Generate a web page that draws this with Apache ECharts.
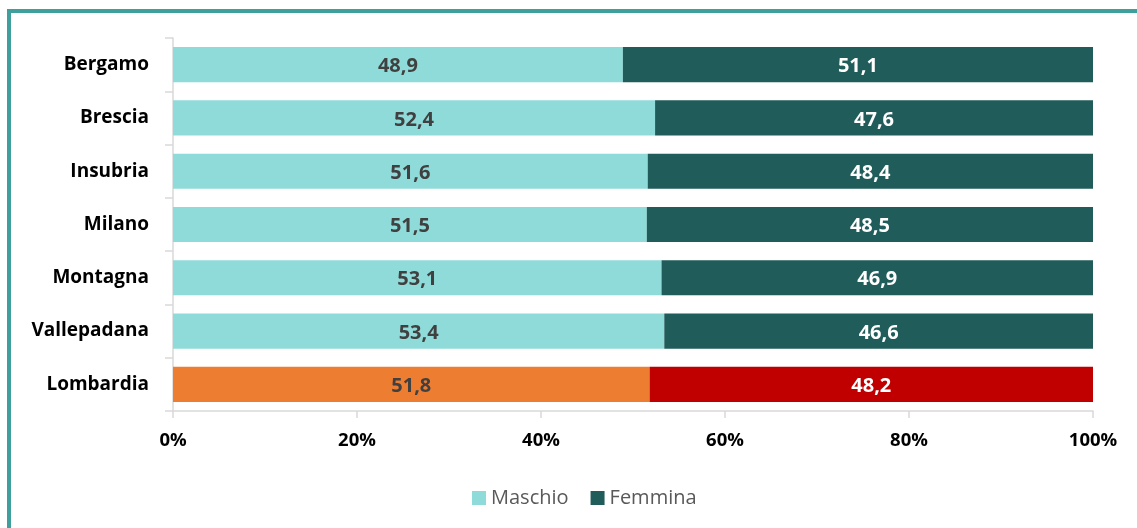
<!DOCTYPE html>
<html>
<head>
<meta charset="utf-8">
<script src="https://cdn.jsdelivr.net/npm/echarts@6/dist/echarts.min.js"></script>
<style>
  html, body { margin: 0; padding: 0; background: #fff; }
  #frame {
    position: absolute; left: 7px; top: 9px; width: 1130px; height: 519px;
    border-left: 4px solid #3f9f9c; border-top: 4px solid #3f9f9c;
    box-sizing: border-box;
  }
  #chart { position: absolute; left: 0; top: 0; width: 1137px; height: 528px; }
</style>
</head>
<body>
<div id="frame"></div>
<div id="chart"></div>
<script>
const categories = ['Bergamo', 'Brescia', 'Insubria', 'Milano', 'Montagna', 'Vallepadana', 'Lombardia'];
const maschio = [48.9, 52.4, 51.6, 51.5, 53.1, 53.4, 51.8];
const femmina = [51.1, 47.6, 48.4, 48.5, 46.9, 46.6, 48.2];

const FONT = 'Open Sans';
const colM = '#8fdbd9';
const colF = '#1f5c5a';

// Lombardia has its own colours
function bars(values, normal, special, labelColor, specialLabel) {
  return values.map((v, i) => {
    const last = categories[i] === 'Lombardia';
    return {
      value: v,
      itemStyle: { color: last ? special : normal },
      label: { color: last ? specialLabel : labelColor }
    };
  });
}

const chart = echarts.init(document.getElementById('chart'));
chart.setOption({
  animation: false,
  textStyle: { fontFamily: FONT },
  grid: { left: 173, right: 44, top: 38, bottom: 117, containLabel: false },
  legend: {
    bottom: 15,
    left: 467,
    itemWidth: 14,
    itemHeight: 14,
    itemGap: 22,
    itemTextGap: 6,
    icon: 'rect',
    textStyle: { fontSize: 20, color: '#595959', fontFamily: FONT },
    data: [
      { name: 'Maschio', itemStyle: { color: colM } },
      { name: 'Femmina', itemStyle: { color: colF } }
    ]
  },
  xAxis: {
    type: 'value',
    min: 0,
    max: 100,
    interval: 20,
    axisLine: { show: true, lineStyle: { color: '#d9d9d9', width: 1.5 } },
    axisTick: { show: true, length: 7, lineStyle: { color: '#d9d9d9', width: 1.5 } },
    splitLine: { show: false },
    axisLabel: {
      formatter: '{value}%',
      fontSize: 18.5,
      fontWeight: 'bold',
      color: '#000',
      margin: 20
    }
  },
  yAxis: {
    type: 'category',
    inverse: true,
    data: categories,
    axisLine: { lineStyle: { color: '#d9d9d9', width: 1.5 } },
    axisTick: { show: true, length: 8, lineStyle: { color: '#d9d9d9', width: 1.5 } },
    axisLabel: { fontSize: 19, fontWeight: 'bold', color: '#000', margin: 24, padding: [4, 0, 0, 0] }
  },
  series: [
    {
      name: 'Maschio',
      type: 'bar',
      stack: 'tot',
      barCategoryGap: '34%',
      itemStyle: { color: colM },
      label: {
        show: true,
        position: 'inside',
        offset: [0, 2],
        fontSize: 20,
        fontWeight: 'bold',
        fontFamily: FONT,
        formatter: p => p.value.toFixed(1).replace('.', ',')
      },
      data: bars(maschio, colM, '#ed7d31', '#404040', '#404040')
    },
    {
      name: 'Femmina',
      type: 'bar',
      stack: 'tot',
      itemStyle: { color: colF },
      label: {
        show: true,
        position: 'inside',
        offset: [0, 2],
        fontSize: 20,
        fontWeight: 'bold',
        fontFamily: FONT,
        formatter: p => p.value.toFixed(1).replace('.', ',')
      },
      data: bars(femmina, colF, '#c00000', '#ffffff', '#ffffff')
    }
  ]
});
</script>
</body>
</html>
